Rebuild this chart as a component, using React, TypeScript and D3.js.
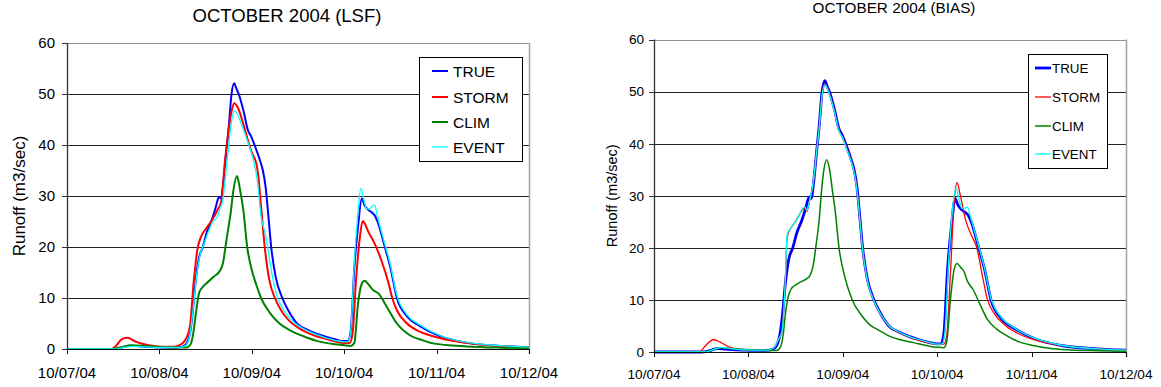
import React from 'react';
import * as d3 from 'd3';

type Pt = [number, number];

// x = days after 10/07/04 00:00, y = runoff in m3/sec
const dayLabels = ['10/07/04', '10/08/04', '10/09/04', '10/10/04', '10/11/04', '10/12/04'];
const yTicks = [0, 10, 20, 30, 40, 50, 60];
const seriesNames = ['TRUE', 'STORM', 'CLIM', 'EVENT'];
const seriesColors = ['#0000ff', '#ff0000', '#008000', '#00ffff'];

const trueRunoff: Pt[] = [
  [0, 0], [0.5, 0], [0.58, 0.2], [0.67, 0.65], [0.8, 0.5], [0.95, 0.35], [1.1, 0.3], [1.22, 0.35],
  [1.28, 0.8], [1.33, 3], [1.36, 7], [1.39, 12.9], [1.43, 18], [1.47, 20], [1.51, 22.7], [1.57, 25.5],
  [1.61, 27.8], [1.63, 29.2], [1.65, 29.8], [1.665, 29.5], [1.69, 32.4], [1.72, 38], [1.75, 43.4],
  [1.78, 49.9], [1.81, 52.1], [1.83, 51.2], [1.86, 49.9], [1.91, 46.7], [1.96, 42.8], [1.99, 41.8],
  [2.04, 39.5], [2.09, 36.9], [2.12, 35], [2.15, 31.7], [2.18, 26], [2.21, 20], [2.26, 14], [2.33, 10],
  [2.4, 7.4], [2.5, 4.8], [2.6, 3.8], [2.7, 3.0], [2.8, 2.4], [2.9, 1.9], [3.0, 1.55], [3.04, 1.55],
  [3.07, 3.5], [3.11, 16], [3.15, 24], [3.19, 29.5], [3.22, 28.2], [3.26, 27.3], [3.29, 26.9],
  [3.31, 26.6], [3.33, 26.2], [3.36, 25], [3.44, 20], [3.5, 16], [3.57, 10], [3.68, 6.4], [3.82, 4.5],
  [4.04, 2.5], [4.33, 1.2], [4.69, 0.6], [5, 0.35],
];

const lsfStorm: Pt[] = [
  [0, 0], [0.48, 0], [0.53, 0.6], [0.59, 1.9], [0.65, 2.2], [0.75, 1.4], [0.87, 0.8], [1.03, 0.45],
  [1.15, 0.45], [1.21, 0.7], [1.27, 1.5], [1.33, 4.4], [1.37, 12.9], [1.41, 19.4], [1.45, 22],
  [1.51, 23.7], [1.57, 25.3], [1.63, 27.3], [1.67, 29], [1.71, 36.9], [1.75, 43], [1.78, 46.5],
  [1.81, 48.2], [1.85, 47.3], [1.91, 44], [1.96, 40.8], [2.0, 38.5], [2.05, 36.3], [2.07, 34],
  [2.1, 28], [2.14, 20], [2.19, 13.5], [2.25, 10], [2.32, 7.5], [2.4, 5.6], [2.5, 4.2], [2.6, 3.2],
  [2.7, 2.5], [2.8, 2], [2.9, 1.5], [3.0, 1.2], [3.06, 1.2], [3.09, 3], [3.13, 14], [3.17, 22],
  [3.2, 25.1], [3.23, 24.3], [3.26, 23], [3.31, 21.4], [3.4, 17.5], [3.48, 12.9], [3.52, 10],
  [3.57, 7.6], [3.68, 5], [3.82, 3.4], [3.96, 2.5], [4.33, 1.2], [4.7, 0.55], [5, 0.3],
];

const lsfClim: Pt[] = [
  [0, 0], [0.5, 0], [0.6, 0.4], [0.7, 0.75], [0.85, 0.6], [1.0, 0.4], [1.2, 0.3], [1.3, 0.3],
  [1.34, 1], [1.37, 3.5], [1.39, 6.3], [1.43, 11], [1.47, 12.2], [1.51, 12.9], [1.59, 14.2],
  [1.66, 15.5], [1.69, 17], [1.71, 19.4], [1.74, 23], [1.77, 26.5], [1.8, 31], [1.84, 33.9],
  [1.87, 31.5], [1.91, 27], [1.95, 20], [2.0, 15.5], [2.05, 12.5], [2.1, 10], [2.2, 7], [2.3, 5],
  [2.4, 3.8], [2.5, 2.9], [2.6, 2.2], [2.7, 1.6], [2.8, 1.2], [2.9, 0.95], [3.0, 0.75], [3.07, 0.6],
  [3.11, 1.2], [3.15, 9], [3.19, 12.8], [3.22, 13.4], [3.27, 12.5], [3.31, 11.6], [3.37, 10.9],
  [3.46, 8.3], [3.57, 5], [3.71, 2.7], [3.85, 1.7], [3.96, 1.1], [4.33, 0.5], [4.7, 0.25], [5, 0.15],
];

const lsfEvent: Pt[] = [
  [0, 0], [0.55, 0], [0.62, 0.3], [0.72, 0.5], [0.85, 0.4], [1.0, 0.3], [1.2, 0.3], [1.27, 0.5],
  [1.32, 2], [1.36, 7], [1.4, 14], [1.44, 18.5], [1.48, 20.5], [1.53, 23], [1.58, 25], [1.63, 26],
  [1.66, 27.8], [1.68, 28.5], [1.71, 33], [1.75, 40], [1.78, 44.5], [1.81, 46.7], [1.83, 46.5],
  [1.86, 45.4], [1.92, 42.5], [1.97, 39.9], [2.02, 36.9], [2.06, 33], [2.1, 26], [2.14, 23],
  [2.18, 19], [2.23, 13.5], [2.28, 10], [2.35, 7.5], [2.45, 5.3], [2.5, 4.6], [2.6, 3.6], [2.7, 2.8],
  [2.8, 2.2], [2.9, 1.7], [3.0, 1.4], [3.04, 1.4], [3.07, 3.5], [3.11, 17], [3.15, 27], [3.18, 31.5],
  [3.21, 29.5], [3.24, 27.6], [3.27, 27.4], [3.3, 28], [3.33, 28.2], [3.36, 26], [3.44, 20.5],
  [3.5, 16.5], [3.57, 10.5], [3.68, 6.7], [3.82, 4.7], [4.04, 2.6], [4.33, 1.3], [4.69, 0.65], [5, 0.35],
];

const biasStorm: Pt[] = [
  [0, 0], [0.48, 0], [0.55, 1.3], [0.63, 2.4], [0.7, 1.9], [0.79, 1.0], [0.9, 0.5], [0.98, 0.35],
  [1.2, 0.35], [1.27, 0.8], [1.32, 2.5], [1.355, 3.8], [1.39, 13.3], [1.41, 22], [1.45, 23.8],
  [1.49, 24.8], [1.53, 26], [1.57, 27.3], [1.6, 27.6], [1.62, 27], [1.65, 29.2], [1.69, 33],
  [1.72, 38], [1.75, 43], [1.78, 49.3], [1.81, 51.5], [1.83, 50.9], [1.86, 49.5], [1.91, 46.3],
  [1.96, 42.5], [1.99, 41.5], [2.04, 39.2], [2.09, 36.6], [2.12, 34.6], [2.15, 31.3], [2.18, 25.5],
  [2.21, 19.6], [2.26, 13.7], [2.33, 9.8], [2.4, 7.2], [2.5, 4.8], [2.6, 3.7], [2.7, 2.9], [2.8, 2.3],
  [2.9, 1.8], [3.0, 1.45], [3.07, 1.5], [3.1, 3], [3.14, 15], [3.18, 29], [3.21, 32.5], [3.24, 30.5],
  [3.28, 27], [3.3, 25.4], [3.36, 22.5], [3.42, 20], [3.48, 14.5], [3.53, 10.2], [3.6, 7.5],
  [3.73, 5], [3.86, 3.5], [4.0, 2.5], [4.3, 1.3], [4.7, 0.6], [5, 0.3],
];

const biasClim: Pt[] = [
  [0, 0], [0.52, 0], [0.62, 0.4], [0.72, 0.8], [0.85, 0.6], [1.0, 0.4], [1.2, 0.3], [1.3, 0.3],
  [1.34, 1], [1.37, 3.5], [1.39, 7], [1.42, 10.5], [1.45, 12], [1.51, 13], [1.57, 13.6], [1.62, 14.1],
  [1.65, 14.6], [1.69, 17], [1.72, 21], [1.75, 25.4], [1.77, 30], [1.8, 35], [1.83, 36.9], [1.86, 35],
  [1.89, 31], [1.92, 27], [1.96, 20], [2.02, 14.5], [2.1, 10], [2.2, 7], [2.3, 5], [2.36, 4.4],
  [2.5, 3], [2.6, 2.4], [2.75, 1.8], [2.9, 1.2], [3.0, 0.9], [3.07, 0.8], [3.1, 1.9], [3.14, 10],
  [3.18, 15.9], [3.21, 17], [3.25, 16.2], [3.28, 15.6], [3.32, 13.6], [3.38, 12], [3.46, 8.9],
  [3.53, 6.3], [3.63, 4.4], [3.73, 3.2], [3.86, 2], [4.0, 1.3], [4.32, 0.5], [4.7, 0.25], [5, 0.15],
];

const biasEvent: Pt[] = [
  [0, 0], [0.55, 0], [0.62, 0.4], [0.71, 0.9], [0.8, 0.7], [0.95, 0.4], [1.2, 0.35], [1.27, 0.8],
  [1.32, 2.5], [1.355, 3.8], [1.39, 13.3], [1.41, 22.5], [1.45, 23.8], [1.49, 24.8], [1.53, 26],
  [1.57, 27.5], [1.6, 27.8], [1.62, 27.2], [1.65, 29.2], [1.69, 33], [1.72, 38], [1.75, 43],
  [1.78, 49.2], [1.81, 51.3], [1.83, 50.8], [1.86, 49.4], [1.91, 46.2], [1.96, 42.4], [1.99, 41.4],
  [2.04, 39], [2.09, 36.5], [2.12, 34.5], [2.15, 31], [2.18, 25.5], [2.21, 19.6], [2.26, 13.7],
  [2.33, 9.8], [2.4, 7.3], [2.5, 4.9], [2.6, 3.8], [2.7, 3], [2.8, 2.4], [2.9, 1.9], [3.0, 1.5],
  [3.05, 1.5], [3.08, 3.5], [3.12, 17], [3.16, 27], [3.2, 31.5], [3.23, 29.5], [3.26, 27.6],
  [3.29, 27.6], [3.32, 27.8], [3.36, 25.5], [3.44, 20.3], [3.5, 16.2], [3.57, 10.3], [3.68, 6.6],
  [3.82, 4.6], [4.04, 2.6], [4.33, 1.25], [4.69, 0.6], [5, 0.35],
];

type PanelCfg = {
  title: string;
  x0: number; x1: number; y0: number; y1: number;
  titleX: number; titleY: number; titleSize: number;
  tickSize: number; xLabelY: number; yLabelEnd: number;
  axisLabelX: number; axisLabelSize: number;
  legend: { x: number; y: number; w: number; h: number; rows: number[]; lineX: number; textX: number; size: number };
  series: Pt[][];
  widths: number[];
};

const font = '"Liberation Sans", Arial, sans-serif';

const Panel = ({ cfg }: { cfg: PanelCfg }) => {
  const x = d3.scaleLinear().domain([0, 5]).range([cfg.x0, cfg.x1]);
  const y = d3.scaleLinear().domain([0, 60]).range([cfg.y0, cfg.y1]);
  const line = d3.line<Pt>().x(d => x(d[0])).y(d => y(d[1])).curve(d3.curveMonotoneX);
  const crisp = (v: number) => Math.round(v) + 0.5;
  const lg = cfg.legend;
  const midY = (cfg.y0 + cfg.y1) / 2;

  return (
    <g fontFamily={font}>
      <text x={cfg.titleX} y={cfg.titleY} fontSize={cfg.titleSize} textAnchor="middle">{cfg.title}</text>

      {yTicks.filter(v => v > 0).map(v => (
        <line key={v} x1={cfg.x0} x2={cfg.x1} y1={crisp(y(v))} y2={crisp(y(v))}
          stroke={v === 60 ? '#909090' : '#222'} strokeWidth={1} />
      ))}
      <line x1={crisp(cfg.x1)} x2={crisp(cfg.x1)} y1={y(60)} y2={y(0) + 5} stroke="#a0a0a0" strokeWidth={1.5} />

      {cfg.series.map((s, i) => (
        <path key={i} d={line(s) || ''} fill="none" stroke={seriesColors[i]} strokeWidth={cfg.widths[i]}
          strokeLinejoin="round" />
      ))}

      <line x1={crisp(cfg.x0)} x2={crisp(cfg.x0)} y1={y(60)} y2={y(0)} stroke="#333" strokeWidth={1.3} />
      <line x1={cfg.x0} x2={cfg.x1} y1={crisp(y(0))} y2={crisp(y(0))} stroke="#111" strokeWidth={1.2} />
      {yTicks.map(v => (
        <g key={v}>
          <line x1={cfg.x0 - 5} x2={cfg.x0} y1={crisp(y(v))} y2={crisp(y(v))} stroke="#333" />
          <text x={cfg.yLabelEnd} y={y(v)} dy="0.36em" fontSize={cfg.tickSize} textAnchor="end">{v}</text>
        </g>
      ))}
      {dayLabels.map((lab, i) => (
        <g key={lab}>
          <line x1={crisp(x(i))} x2={crisp(x(i))} y1={y(0)} y2={y(0) + 5} stroke="#111" />
          <text x={x(i)} y={cfg.xLabelY} fontSize={cfg.tickSize} textAnchor="middle">{lab}</text>
        </g>
      ))}

      <text transform={`translate(${cfg.axisLabelX},${midY}) rotate(-90)`} fontSize={cfg.axisLabelSize}
        textAnchor="middle">Runoff (m3/sec)</text>

      <rect x={lg.x + 0.5} y={lg.y + 0.5} width={lg.w} height={lg.h} fill="#fff" stroke="#000" />
      {seriesNames.map((n, i) => (
        <g key={n}>
          <line x1={lg.lineX} x2={lg.lineX + 16} y1={lg.rows[i]} y2={lg.rows[i]}
            stroke={seriesColors[i]} strokeWidth={cfg.widths[i]} />
          <text x={lg.textX} y={lg.rows[i]} dy="0.36em" fontSize={lg.size}>{n}</text>
        </g>
      ))}
    </g>
  );
};

const lsfCfg: PanelCfg = {
  title: 'OCTOBER 2004 (LSF)',
  x0: 67, x1: 529, y0: 349, y1: 43,
  titleX: 287, titleY: 22, titleSize: 18.5,
  tickSize: 15, xLabelY: 378, yLabelEnd: 55,
  axisLabelX: 25, axisLabelSize: 17,
  legend: { x: 419, y: 57, w: 103, h: 104, rows: [71, 97, 122, 147], lineX: 432, textX: 453, size: 15.5 },
  series: [trueRunoff, lsfStorm, lsfClim, lsfEvent],
  widths: [2, 2, 2, 1.3],
};

const biasCfg: PanelCfg = {
  title: 'OCTOBER 2004 (BIAS)',
  x0: 654, x1: 1126, y0: 352, y1: 39.5,
  titleX: 894, titleY: 13, titleSize: 15.3,
  tickSize: 13.6, xLabelY: 379, yLabelEnd: 644,
  axisLabelX: 617, axisLabelSize: 14.5,
  legend: { x: 1028, y: 54, w: 79, h: 114, rows: [68, 97, 126, 154], lineX: 1035, textX: 1052, size: 13.4 },
  series: [trueRunoff, biasStorm, biasClim, biasEvent],
  widths: [2.8, 1.3, 1.5, 1.3],
};

export default function App() {
  return (
    <svg width={1161} height={387} style={{ position: 'absolute', left: 0, top: 0, background: '#fff' }}>
      <Panel cfg={lsfCfg} />
      <Panel cfg={biasCfg} />
    </svg>
  );
}
